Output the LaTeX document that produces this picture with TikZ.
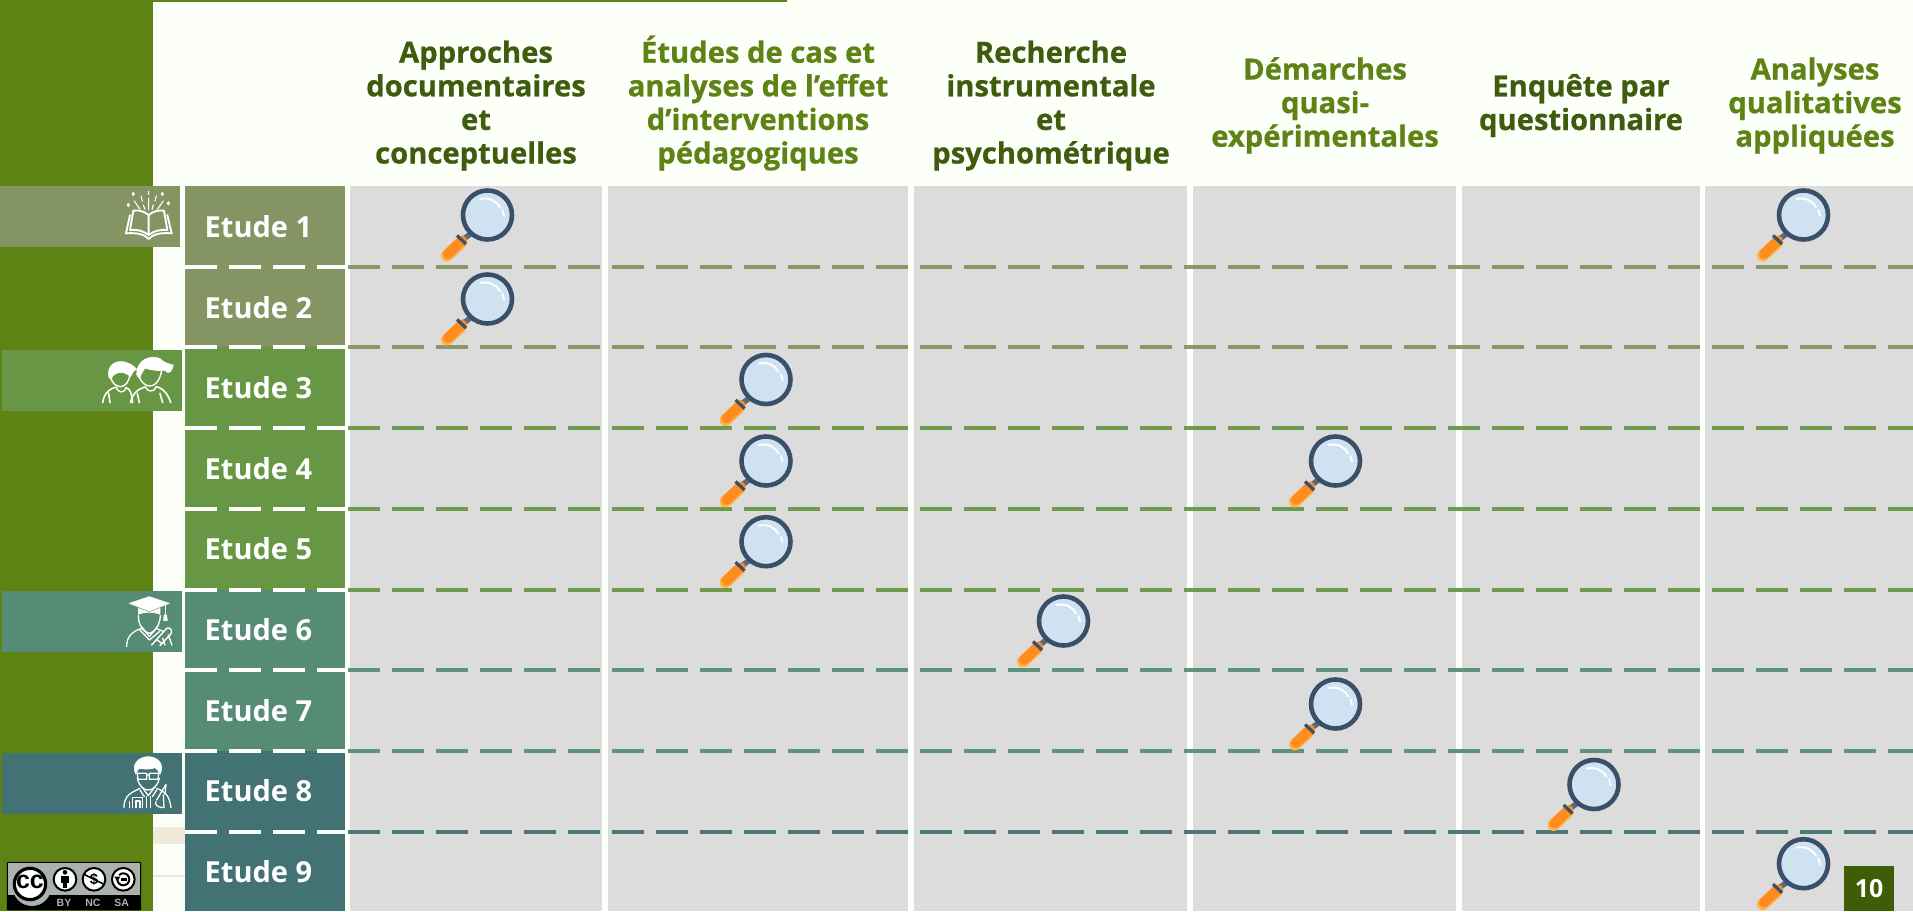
\documentclass[tikz,border=0pt]{standalone}
\usepackage{fontspec}
\setmainfont{Open Sans}
\newfontfamily\hdfont{Open Sans}[BoldFeatures={FakeBold=0.7}]
\newfontfamily\libsans{Liberation Sans}
\usetikzlibrary{calc}
\definecolor{bgw}{HTML}{FDFFF9}
\definecolor{barg}{HTML}{5C8314}
\definecolor{darkg}{HTML}{3F5C0E}
\definecolor{numg}{HTML}{3F5C06}
\definecolor{cella}{HTML}{DCDCDC}
\definecolor{rowa}{HTML}{849462}
\definecolor{rowb}{HTML}{679645}
\definecolor{rowc}{HTML}{568C75}
\definecolor{rowd}{HTML}{437274}
\definecolor{beige}{HTML}{F0EADB}
\definecolor{ringc}{HTML}{3A5068}
\definecolor{lensc}{HTML}{CFE2F1}
\definecolor{orangec}{HTML}{FF8C1F}
\definecolor{orangel}{HTML}{FFB347}
\definecolor{ccgrey}{HTML}{AAB2AB}
\tikzset{
  x=1pt,y=-1pt,
  head/.style={font=\hdfont\bfseries\fontsize{29.2}{33.6}\selectfont,align=center,anchor=base,inner sep=0pt},
  etude/.style={font=\bfseries\fontsize{29}{30}\selectfont,text=white,anchor=base west,inner sep=0pt},
  rowdash/.style={line width=4pt,dash pattern=on 32pt off 12pt},
  icon/.style={white,line width=1.3pt,line cap=round,line join=round,fill=none},
  iconfill/.style={white,fill=white,line width=.6pt,line join=round},
  ccsmall/.style={fill=white,draw=black,line width=1.5pt},
  cclab/.style={font=\libsans\bfseries\fontsize{10.5}{11}\selectfont,text=ccgrey,inner sep=0pt},
  magnifier/.pic={
    \draw[line width=5.5pt,color=ringc!85!white] (-16.5,18.5) -- (-24,24);
    \draw[line width=12pt,color=orangel,line cap=round] (-26.5,27.5) -- (-40.5,40.5);
    \draw[line width=10pt,color=orangec,line cap=round] (-25.5,25.5) -- (-39.5,39);
    \draw[line width=3.2pt,color=ringc] (-30.5,20.5) -- (-21.5,29);
    \draw[draw=ringc,fill=lensc,line width=4.6pt] (0,0) circle[radius=24.5];
    \draw[white,line width=1.9pt,line cap=round] (-7.3,-16) .. controls (2,-18) and (9,-14) .. (12.7,-7.7);
    \draw[white,line width=1.9pt,line cap=round] (15,-5) -- (16.5,0.7);
  }
}
\begin{document}
\begin{tikzpicture}
\useasboundingbox (0,0) rectangle (1913,911);
\fill[bgw] (0,0) rectangle (1913,911);
\fill[barg] (0,0) rectangle (153,911);
\fill[barg] (0,0) rectangle (787,2);
% traces
\fill[beige] (153,827) rectangle (185,843.7);
\fill[beige] (153,874.5) rectangle (185,876.5);
% columns
\foreach \a/\b in {350/601.5,608/907.5,914/1187,1193/1455.5,1461.5/1699.5,1705/1913}
  \fill[cella] (\a,186) rectangle (\b,911);
% row boxes
\fill[rowa] (185,186) rectangle (344.5,347);
\fill[rowb] (185,347) rectangle (344.5,590);
\fill[rowc] (185,590) rectangle (344.5,751);
\fill[rowd] (185,751) rectangle (344.5,911);
% dashed lines
\foreach \y/\c in {266.7/rowa,347.3/rowa,428/rowb,508.6/rowb,589.5/rowb,670.2/rowc,751/rowc,831.8/rowd}{
  \coordinate (wl) at (185,\y); \coordinate (wr) at (349,\y);
  \coordinate (cl) at (347.7,\y); \coordinate (cr) at (1913,\y);
  \draw[rowdash,white] (wl) -- (wr);
  \draw[rowdash,\c!95!white] (cl) -- (cr);
}
% side tabs
\fill[rowa] (0,186) rectangle (180,247);
\fill[rowb] (2,349.5) rectangle (182,410.7);
\fill[rowc] (2,591) rectangle (182,651.7);
\fill[rowd] (2,753) rectangle (182,813.7);
% Etude labels
\foreach \n/\y in {1/237.4,2/318,3/398.6,4/479.2,5/559.8,6/640.4,7/721,8/801.6,9/882.2}
  \node[etude] (e\n) at (204.5,\y) {Etude \n};
% headers
\node[head,text=darkg] (h1) at (476,163.5) {Approches\\documentaires\\et\\conceptuelles};
\node[head,text=barg] (h2) at (758,163.5) {Études de cas et\\analyses de l’effet\\d’interventions\\pédagogiques};
\node[head,text=darkg] (h3) at (1051,163.5) {Recherche\\instrumentale\\et\\psychométrique};
\node[head,text=barg] (h4) at (1325,146.7) {Démarches\\quasi-\\expérimentales};
\node[head,text=darkg] (h5) at (1581,130) {Enquête par\\questionnaire};
\node[head,text=barg] (h6) at (1815,146.7) {Analyses\\qualitatives\\appliquées};
% magnifiers
\foreach \x/\y in {487.5/215,487.5/299,766/379.5,766/461,766/541.7,1335.5/461,1063.5/621,1335.5/704,1594/784.5,1803.5/215,1803.5/863.7}
  \pic at (\x,\y) {magnifier};
% page number
\node[fill=numg,text=white,minimum width=50pt,minimum height=45pt,inner sep=0pt,font=\bfseries\fontsize{25}{26}\selectfont] (pg) at (1869,888.5) {10};
% book icon
\begin{scope}[shift={(100,170)},x=0.3333pt,y=-0.3333pt]
  \draw[icon,line width=1.9pt] (146,135) .. controls (130,122) and (115,120) .. (100,122) -- (90,180) .. controls (110,178) and (130,182) .. (146,195) .. controls (162,182) and (182,178) .. (202,180) -- (192,122) .. controls (177,120) and (162,122) .. (146,135) -- (146,195);
  \draw[icon,line width=1.9pt] (90,135) -- (78,190) .. controls (100,188) and (122,190) .. (135,198) -- (146,207) -- (157,198) .. controls (170,190) and (192,188) .. (215,190) -- (202,135);
  \draw[icon,line width=1.1pt] (146,64) -- (146,74) (146,84) -- (146,120) (123,78) -- (127,93) (130,105) -- (135,118) (169,78) -- (165,93) (160,105) -- (156,118) (103,93) -- (120,118) (190,93) -- (172,118);
  \foreach \px/\py in {100/72,187/72,85/105,205/100}
    \fill[white] (\px,\py-7) -- (\px+5,\py) -- (\px,\py+7) -- (\px-5,\py) -- cycle;
\end{scope}
% children icon
\begin{scope}[shift={(80,340)},x=0.3333pt,y=-0.3333pt]
  \draw[iconfill] (86,110) .. controls (80,70) and (115,58) .. (140,68) .. controls (152,72) and (162,78) .. (170,88) .. controls (160,92) and (155,100) .. (152,110) .. controls (135,95) and (120,95) .. (110,100) .. controls (100,104) and (95,112) .. (92,118) -- cycle;
  \draw[iconfill] (170,104) .. controls (168,62) and (210,42) .. (240,56) .. controls (250,68) and (265,70) .. (280,76) .. controls (277,92) and (268,100) .. (262,97) .. controls (255,90) and (250,88) .. (245,92) .. controls (225,92) and (205,88) .. (195,84) .. controls (190,92) and (182,104) .. (178,116) -- cycle;
  \draw[icon,line width=1.4pt] (93,112) .. controls (95,130) and (110,140) .. (122,140) .. controls (135,140) and (148,125) .. (150,102);
  \draw[icon,line width=1.4pt] (178,108) .. controls (182,128) and (198,138) .. (210,138) .. controls (225,138) and (242,120) .. (245,88);
  \draw[icon,line width=1.4pt] (108,141) .. controls (112,155) and (130,165) .. (138,143);
  \draw[icon,line width=1.4pt] (196,140) .. controls (200,155) and (222,160) .. (228,140);
  \draw[icon,line width=1.6pt] (68,188) .. controls (72,165) and (80,150) .. (106,142) (90,188) -- (86,160) (138,143) .. controls (152,148) and (155,160) .. (158,188);
  \draw[icon,line width=1.6pt] (152,188) .. controls (155,165) and (170,148) .. (195,141) (178,188) -- (172,160) (230,140) .. controls (255,148) and (265,165) .. (272,188) (248,188) -- (240,160);
\end{scope}
% graduate icon
\begin{scope}[shift={(100,585)},x=0.3333pt,y=-0.3333pt]
  \draw[iconfill] (88,55) -- (148,35) -- (208,55) -- (148,78) -- cycle;
  \draw[iconfill] (115,70) -- (148,82) -- (180,70) -- (180,88) .. controls (165,80) and (130,80) .. (115,88) -- cycle;
  \draw[icon] (196,60) -- (196,90);
  \draw[iconfill] (192,90) -- (200,90) -- (202,107) -- (191,107) -- cycle;
  \draw[icon] (115,92) .. controls (115,120) and (130,142) .. (148,145) .. controls (165,142) and (180,120) .. (181,92);
  \draw[icon] (80,185) .. controls (80,155) and (95,140) .. (125,130) (125,125) -- (148,155) -- (172,125) (172,132) -- (192,140);
  \draw[icon] (118,133) -- (148,165) -- (178,140);
  \draw[icon,line width=1.4pt] (155,180) -- (200,130) .. controls (208,125) and (218,135) .. (214,145) -- (180,182) (172,165) -- (185,175) (188,160) -- (195,180) (205,150) -- (216,180);
\end{scope}
% researcher icon
\begin{scope}[shift={(100,745)},x=0.3333pt,y=-0.3333pt]
  \draw[iconfill] (108,88) .. controls (92,60) and (115,35) .. (145,35) .. controls (175,35) and (195,60) .. (180,88) .. controls (176,78) and (172,72) .. (165,68) .. controls (150,75) and (128,72) .. (118,70) .. controls (113,75) and (110,80) .. (108,88) -- cycle;
  \draw[icon] (112,100) .. controls (118,125) and (132,135) .. (145,135) .. controls (158,135) and (172,125) .. (178,100);
  \draw[icon] (112,85) -- (140,85) -- (140,103) -- (114,103) -- cycle (148,85) -- (176,85) -- (174,103) -- (148,103) -- cycle (140,90) -- (148,90);
  \draw[icon] (72,188) .. controls (72,160) and (80,148) .. (120,130) (125,125) -- (145,152) -- (165,125) (170,130) .. controls (195,140) and (208,150) .. (213,188);
  \draw[icon] (120,135) -- (133,155) (170,135) -- (157,155);
  \draw[icon] (88,188) -- (88,170) (98,188) -- (98,158) -- (128,158) -- (128,188) (108,188) -- (108,168) -- (120,168) -- (120,188) (140,155) -- (140,188) (152,155) -- (152,188);
  \draw[icon] (170,165) -- (198,118) -- (195,148) (168,170) .. controls (165,180) and (170,185) .. (188,188) (190,150) -- (192,188);
\end{scope}
% CC badge
\begin{scope}[shift={(0,560)},x=0.3333pt,y=-0.3333pt]
  \draw[fill=ccgrey,draw=black,line width=1pt,rounded corners=1pt] (22,907) rectangle (422,1050);
  \fill[black] (22,1005) rectangle (422,1050);
  \fill[ccgrey] (96,980) circle[radius=58];
  \draw[fill=white,draw=black,line width=3.2pt] (90,972) circle[radius=47];
  \node[font=\libsans\bfseries\fontsize{25}{25}\selectfont,inner sep=0pt] (cc) at (90,966) {cc};
  \draw[ccsmall,line width=2pt] (195,958) circle[radius=34];
  \draw[ccsmall,line width=2pt] (282,958) circle[radius=34];
  \draw[ccsmall,line width=2pt] (370,958) circle[radius=34];
  \fill[black] (195,937) circle[radius=7];
  \fill[black] (183,947) rectangle (207,968);
  \fill[black] (188,968) rectangle (202,985);
  \draw[black,line width=1.5pt] (254,944) -- (310,972);
  \node[font=\libsans\bfseries\fontsize{15}{15}\selectfont,inner sep=0pt] (ncd) at (282,958) {\$};
  \draw[black,line width=2pt] (352,958) arc[start angle=180,end angle=-135,radius=18];
  \fill[black] (343,950) -- (361,950) -- (352,964) -- cycle;
  \fill[black] (362,953) rectangle (380,963);
  \node[cclab] (by) at (192,1030) {BY};
  \node[cclab] (nc) at (279,1030) {NC};
  \node[cclab] (sa) at (365,1030) {SA};
\end{scope}
\end{tikzpicture}
\end{document}
